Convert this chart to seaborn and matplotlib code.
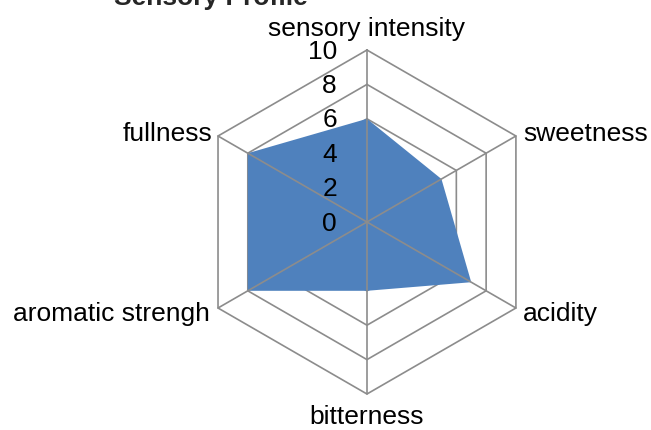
import matplotlib
matplotlib.use("Agg")
import matplotlib.pyplot as plt
import numpy as np
import seaborn as sns

# chart data
categories = ["sensory intensity", "sweetness", "acidity", "bitterness",
              "aromatic strengh", "fullness"]
scores = [6, 5, 7, 4, 8, 8]
ring_levels = [2, 4, 6, 8, 10]
tick_values = [0, 2, 4, 6, 8, 10]
title = "Sensory Profile"

sns.set_theme(style="white")
plt.rcParams["font.family"] = ["Liberation Sans", "DejaVu Sans"]

fill_color = "#4f81bd"
grid_color = "#8c8c8c"
font_size = 19

fig = plt.figure(figsize=(6.51, 4.30), dpi=100)
ax = fig.add_axes([0.2995, 0.0837, 0.5284, 0.8], projection="polar")
ax.set_theta_zero_location("N")
ax.set_theta_direction(-1)
ax.set_ylim(0, 10)
ax.axis("off")

angles = np.linspace(0, 2 * np.pi, len(categories), endpoint=False)
closed = np.append(angles, angles[0])

# hexagonal rings sit under the filled area, spokes on top of it
for lvl in ring_levels:
    ax.plot(closed, [lvl] * len(closed), color=grid_color, lw=1.2,
            zorder=1, clip_on=False)
ax.fill(closed, scores + scores[:1], color=fill_color, lw=0, zorder=2)
for a in angles:
    ax.plot([a, a], [0, 10], color=grid_color, lw=1.2, zorder=3, clip_on=False)

# category labels around the outer ring
label_offsets = [(0, 15, "center"), (5, 1.5, "left"), (5, -4, "left"),
                 (0, -16.5, "center"), (-5.8, -4, "right"), (-4.3, 1.5, "right")]
for a, name, (dx, dy, ha) in zip(angles, categories, label_offsets):
    ax.annotate(name, xy=(a, 10), xytext=(dx, dy), textcoords="offset points",
                ha=ha, va="center", fontsize=font_size, color="black",
                annotation_clip=False)

# value ticks along the top spoke
for v in tick_values:
    ax.annotate(str(v), xy=(0, v), xytext=(-21.6, -1.2), textcoords="offset points",
                ha="right", va="center", fontsize=font_size, color="black",
                annotation_clip=False)

fig.text(0.324, 1 - 5 / 430, title, ha="center", va="baseline",
         fontsize=font_size, fontweight="bold")

fig.savefig("out.png", dpi=100)
